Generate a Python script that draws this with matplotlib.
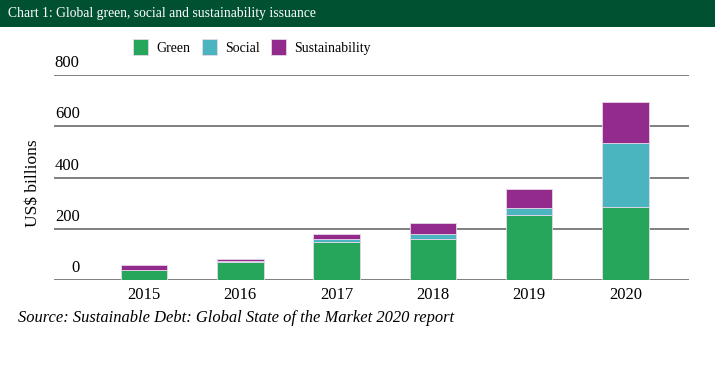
import matplotlib
matplotlib.use("Agg")
import matplotlib.pyplot as plt
from matplotlib.patches import Rectangle
from matplotlib.transforms import ScaledTranslation
import numpy as np

years = ["2015", "2016", "2017", "2018", "2019", "2020"]
green = [38, 72, 147, 161, 254, 285]
social = [1, 1, 12, 19, 29, 249]
sustainability = [19, 11, 22, 41, 74, 162]
series_names = ["Green", "Social", "Sustainability"]
colors = ["#26a65b", "#4ab4bf", "#922b8c"]
yticks = [0, 200, 400, 600, 800]

plt.rcParams['font.family'] = ['Liberation Serif', 'DejaVu Serif']

W, H = 715, 389
fig = plt.figure(figsize=(W / 100, H / 100), dpi=100)

def fx(px):
    return px / W

def fy(py):
    return 1 - py / H

# banner
fig.patches.append(Rectangle((0, fy(27)), 1, 27 / H, transform=fig.transFigure,
                             facecolor="#005131", edgecolor="none", zorder=0))
fig.text(fx(8), fy(14), "Chart 1: Global green, social and sustainability issuance",
         color="white", fontsize=9.8, va="center", ha="left")

ax = fig.add_axes([fx(54), fy(280), fx(689) - fx(54), (280 - 75.3) / H])
x = np.arange(len(years))
bottom = np.zeros(len(years))
for vals, name, c in zip([green, social, sustainability], series_names, colors):
    ax.bar(x, vals, width=0.483, bottom=bottom, color=c, label=name,
           edgecolor="#e8d8e8", linewidth=0.6, zorder=3)
    bottom += np.array(vals)

ax.set_xlim(-0.935, 5.66)
ax.set_ylim(0, 800)
ax.set_yticks(yticks)
ax.set_yticklabels([str(v) for v in yticks])
ax.grid(axis="y", color="#7f7f7f", linewidth=1.4, zorder=0)
ax.set_axisbelow(True)
for s in ax.spines.values():
    s.set_visible(False)
ax.tick_params(axis="y", length=0, labelsize=12, pad=-18.5)
for lab in ax.get_yticklabels():
    lab.set_verticalalignment("center")
    lab.set_horizontalalignment("right")
    lab.set_transform(lab.get_transform() + ScaledTranslation(0, 12 / 100, fig.dpi_scale_trans))
ax.set_xticks(x)
ax.set_xticklabels(years)
ax.tick_params(axis="x", length=0, labelsize=12, pad=5)

fig.text(fx(33), fy(183), "US$ billions", rotation=90, fontsize=12.5,
         ha="center", va="center")

leg = fig.legend(loc="center", bbox_to_anchor=(fx(252), fy(47)), ncol=3, frameon=False,
                 fontsize=10, handlelength=1.1, handleheight=1.45, handletextpad=0.6,
                 columnspacing=0.8)

fig.text(fx(18), fy(318), "Source: Sustainable Debt: Global State of the Market 2020 report",
         fontsize=11.85, style="italic", va="center", ha="left")

fig.savefig("out.png", dpi=100)
